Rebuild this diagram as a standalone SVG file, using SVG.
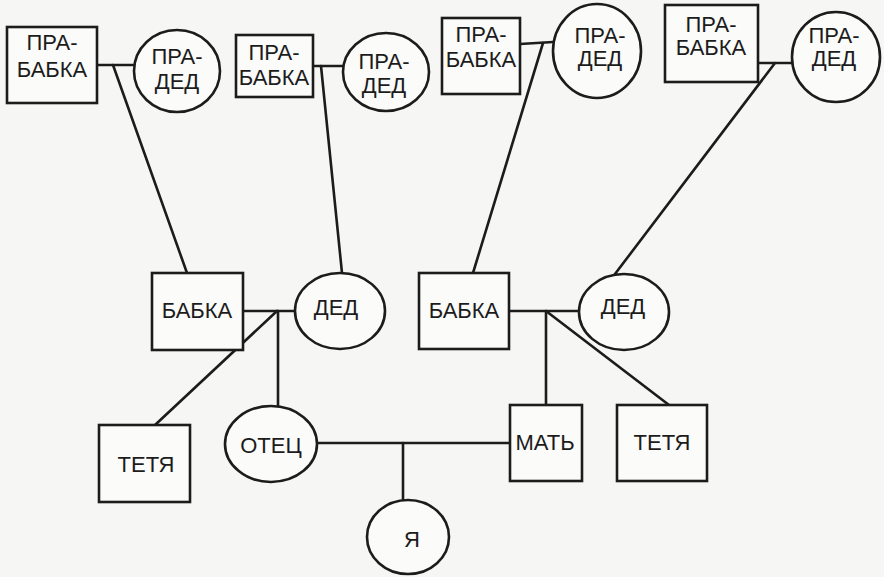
<svg xmlns="http://www.w3.org/2000/svg" width="884" height="577" viewBox="0 0 884 577">
<style>
.n{fill:#fbfbfa;stroke:#1c1c1c;stroke-width:2.6}
.c line{stroke:#1c1c1c;stroke-width:2.6;stroke-linecap:round}
text{font-family:"Liberation Sans",Arial,sans-serif;font-size:22px;fill:#1c1c1c;text-anchor:middle}
</style>
<rect x="0" y="0" width="884" height="577" fill="#f6f6f4"/>
<g id="connectors" class="c">
<line x1="97" y1="65" x2="135" y2="65"/>
<line x1="113" y1="65" x2="187" y2="273"/>
<line x1="313" y1="66" x2="343" y2="66"/>
<line x1="321" y1="66" x2="342" y2="273"/>
<line x1="520" y1="44" x2="553" y2="42"/>
<line x1="543" y1="43" x2="473" y2="273"/>
<line x1="758" y1="63" x2="792" y2="63"/>
<line x1="775" y1="63" x2="615" y2="274"/>
<line x1="243" y1="311" x2="295" y2="311"/>
<line x1="278" y1="311" x2="278" y2="407"/>
<line x1="277" y1="311" x2="155" y2="425"/>
<line x1="509" y1="311" x2="579" y2="311"/>
<line x1="546" y1="311" x2="546" y2="405"/>
<line x1="546" y1="311" x2="669" y2="405"/>
<line x1="317" y1="443" x2="510" y2="443"/>
<line x1="403" y1="443" x2="403" y2="500"/>
</g>
<g id="prababka1"><rect class="n" x="7" y="27" width="90" height="76"/><text x="52" y="50">ПРА-</text><text x="52" y="77">БАБКА</text></g>
<g id="praded1"><ellipse class="n" cx="177" cy="71" rx="43" ry="41"/><text x="177" y="64">ПРА-</text><text x="177" y="89">ДЕД</text></g>
<g id="prababka2"><rect class="n" x="236" y="35" width="77" height="62"/><text x="274" y="60">ПРА-</text><text x="274" y="85">БАБКА</text></g>
<g id="praded2"><ellipse class="n" cx="386" cy="72" rx="43" ry="39"/><text x="384" y="69">ПРА-</text><text x="384" y="93">ДЕД</text></g>
<g id="prababka3"><rect class="n" x="442" y="18" width="78" height="76"/><text x="481" y="42">ПРА-</text><text x="481" y="67">БАБКА</text></g>
<g id="praded3"><ellipse class="n" cx="597" cy="51" rx="44" ry="47"/><text x="600" y="43">ПРА-</text><text x="600" y="66">ДЕД</text></g>
<g id="prababka4"><rect class="n" x="665" y="5" width="93" height="77"/><text x="711" y="32">ПРА-</text><text x="711" y="55">БАБКА</text></g>
<g id="praded4"><ellipse class="n" cx="836" cy="57" rx="44" ry="45"/><text x="834" y="43">ПРА-</text><text x="834" y="66">ДЕД</text></g>
<g id="babka1"><rect class="n" x="152" y="273" width="91" height="77"/><text x="197" y="318">БАБКА</text></g>
<g id="ded1"><ellipse class="n" cx="340" cy="311" rx="45" ry="38"/><text x="336" y="315">ДЕД</text></g>
<g id="babka2"><rect class="n" x="419" y="273" width="90" height="76"/><text x="464" y="318">БАБКА</text></g>
<g id="ded2"><ellipse class="n" cx="624" cy="312" rx="45" ry="38"/><text x="623" y="314">ДЕД</text></g>
<g id="tetya1"><rect class="n" x="99" y="425" width="91" height="77"/><text x="146" y="472">ТЕТЯ</text></g>
<g id="otec"><ellipse class="n" cx="271" cy="444" rx="46" ry="38"/><text x="271" y="453">ОТЕЦ</text></g>
<g id="mat"><rect class="n" x="510" y="405" width="72" height="76"/><text x="545" y="450">МАТЬ</text></g>
<g id="tetya2"><rect class="n" x="617" y="405" width="90" height="76"/><text x="662" y="450">ТЕТЯ</text></g>
<g id="ya"><ellipse class="n" cx="408" cy="537" rx="41" ry="37"/><text x="412" y="547">Я</text></g>
</svg>
